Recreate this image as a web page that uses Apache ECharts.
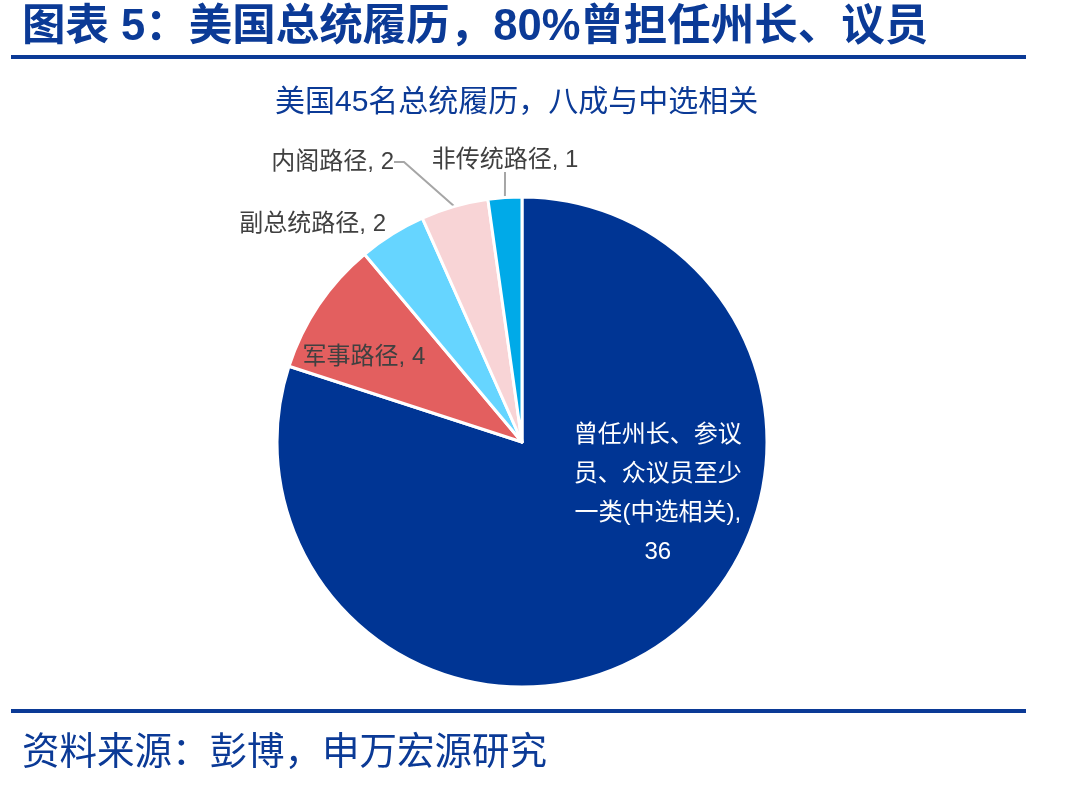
<!DOCTYPE html>
<html>
<head>
<meta charset="utf-8">
<script src="https://cdn.jsdelivr.net/npm/echarts@6/dist/echarts.min.js"></script>
<style>
  html, body { margin: 0; padding: 0; background: #fff; }
  #main { width: 1074px; height: 787px; }
</style>
</head>
<body>
<div id="main"></div>
<script>
// 美国总统履历 数据
const names = ['曾任州长、参议\n员、众议员至少\n一类(中选相关)', '军事路径', '副总统路径', '内阁路径', '非传统路径']
const values = [36, 4, 2, 2, 1]
const colors = ['#003594', '#E35F5F', '#66D5FF', '#F8D4D6', '#00AAE8']

const font = '"Liberation Sans", "Noto Sans CJK SC", sans-serif'
const navy = '#0B3A96'

// 标签位置 (手动摆放)
const labelPos = [null, null, { x: 386, y: 224 }, { x: 394, y: 162 }, { x: 505, y: 160 }]

const chart = echarts.init(document.getElementById('main'))
chart.setOption({
  animation: false,
  title: {
    text: '美国45名总统履历，八成与中选相关',
    left: 270,
    top: 83,
    textStyle: { fontFamily: font, fontSize: 30, fontWeight: 'normal', color: navy }
  },
  graphic: [
    {
      type: 'text', left: 22, top: 6,
      style: { text: '图表 5：美国总统履历，80%曾担任州长、议员', font: 'bold 43.5px ' + font, fill: navy }
    },
    { type: 'rect', shape: { x: 11, y: 55, width: 1015, height: 4 }, style: { fill: navy } },
    { type: 'rect', shape: { x: 11, y: 709, width: 1015, height: 4 }, style: { fill: navy } },
    {
      type: 'text', left: 22, top: 735,
      style: { text: '资料来源：彭博，申万宏源研究', font: '37.5px ' + font, fill: navy }
    }
  ],
  series: [
    {
      type: 'pie',
      center: [522, 442],
      radius: 245,
      startAngle: 90,
      clockwise: true,
      itemStyle: { borderColor: '#fff', borderWidth: 3 },
      label: {
        formatter: '{b}, {c}',
        fontFamily: font,
        fontSize: 24,
        color: '#404040'
      },
      labelLine: { show: true, length: 10, length2: 10, lineStyle: { color: '#A6A6A6', width: 2 } },
      labelLayout: function (p) {
        const pos = labelPos[p.dataIndex]
        if (!pos) return {}
        return { x: pos.x, y: pos.y, align: p.dataIndex === 4 ? 'center' : 'right', verticalAlign: 'middle', moveOverlap: false }
      },
      data: names.map((n, i) => {
        const d = { name: n, value: values[i], itemStyle: { color: colors[i] } }
        if (i === 0) {
          d.label = {
            position: 'inside', formatter: '{b},\n{c}', color: '#fff', fontSize: 24,
            lineHeight: 39, align: 'center', offset: [62, -50]
          }
        } else if (i === 1) {
          d.label = { position: 'inside', offset: [-54, -14] }
        } else if (i === 2) {
          d.labelLine = { show: false }
        }
        return d
      })
    }
  ]
})
</script>
</body>
</html>
